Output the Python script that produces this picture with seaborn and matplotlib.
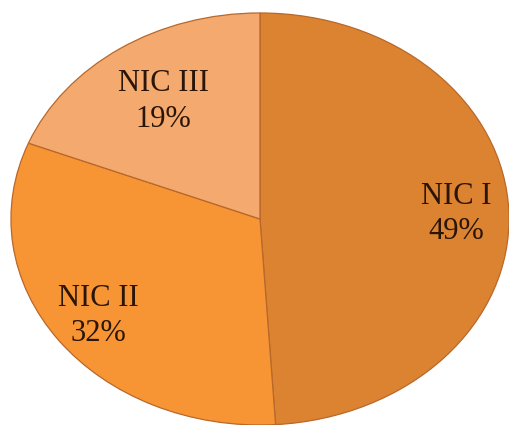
import matplotlib
matplotlib.use("Agg")
import matplotlib.pyplot as plt
import seaborn as sns
import numpy as np

categories = ["NIC I", "NIC II", "NIC III"]
values = [49, 32, 19]
colors = ["#DB8331", "#F79535", "#F4AA6E"]

sns.set_style("white")
plt.rcParams["font.family"] = ["Liberation Serif", "DejaVu Serif"]

fig = plt.figure(figsize=(5.09, 4.25), dpi=100)
ax = fig.add_axes([0, 0, 1, 1])

wedges, _ = ax.pie(values, colors=colors, startangle=90, counterclock=False,
                   wedgeprops=dict(edgecolor="#B8682A", linewidth=0.9))

label_r = [0.79, 0.80, 0.69]
for w, cat, v, r in zip(wedges, categories, values, label_r):
    ang = np.deg2rad((w.theta1 + w.theta2) / 2)
    ax.text(r * np.cos(ang), r * np.sin(ang), f"{cat}\n{v}%",
            ha="center", va="center", fontsize=22, color="#2A1508",
            linespacing=1.3)

ax.set_aspect("auto")
ax.set_xlim(-1.044, 1.0)
ax.set_ylim(-1.0, 1.063)
ax.axis("off")

fig.savefig("out.png", dpi=100, facecolor="white")
